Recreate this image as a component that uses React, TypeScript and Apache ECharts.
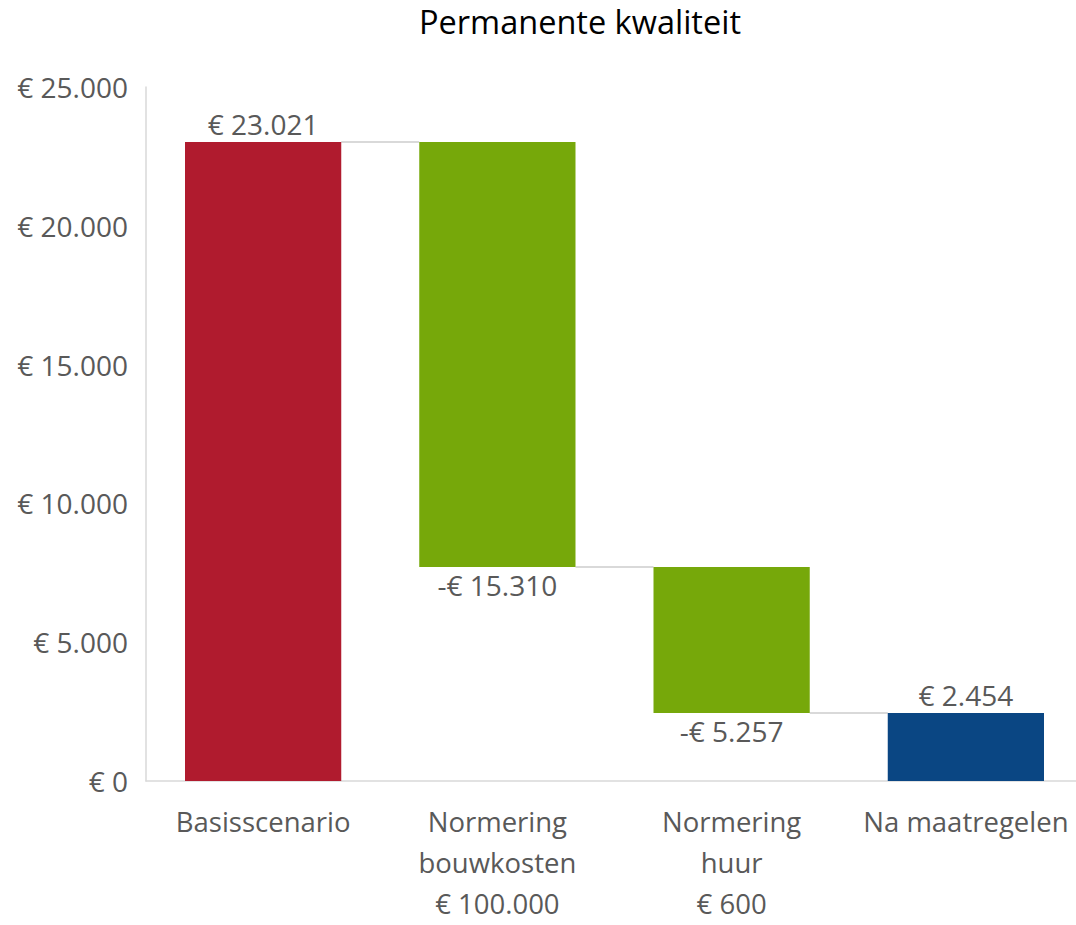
import React, { useEffect, useRef } from "react";
import * as echarts from "echarts";

const categories = [
  "Basisscenario",
  "Normering\nbouwkosten\n€ 100.000",
  "Normering\nhuur\n€ 600",
  "Na maatregelen",
];
// signed values of each step (first = start total, last = end total)
const stepValues = [23021, -15310, -5257, 2454];
const barColors = ["#B01B2E", "#76A80A", "#76A80A", "#0A4683"];
const yTicks = { min: 0, max: 25000, interval: 5000 };

const fmt = (n: number) =>
  (n < 0 ? "-€ " : "€ ") + String(Math.abs(n)).replace(/\B(?=(\d{3})+(?!\d))/g, ".");

export default function App() {
  const ref = useRef<HTMLDivElement>(null);
  useEffect(() => {
    document.body.style.margin = "0";
    document.body.style.overflow = "hidden";
    document.documentElement.style.overflow = "hidden";
    const chart = echarts.init(ref.current!, undefined, { renderer: "svg" });

    const n = stepValues.length;
    const base: number[] = [];
    const heights: number[] = [];
    const levels: number[] = [];
    let running = 0;
    stepValues.forEach((v, i) => {
      if (i === 0 || i === n - 1) {
        base.push(0);
        heights.push(Math.abs(v));
        running = v;
      } else {
        const next = running + v;
        base.push(Math.min(running, next));
        heights.push(Math.abs(v));
        running = next;
      }
      levels.push(running);
    });
    const connectors = levels.slice(0, n - 1).map((lv, i) => [i, lv]);

    const font = "Open Sans";
    const barW = 0.667;

    chart.setOption({
      animation: false,
      title: {
        text: "Permanente kwaliteit",
        left: 414,
        top: 0,
        textStyle: { fontFamily: font, fontSize: 32.5, fontWeight: "normal", color: "#000" },
      },
      grid: {
        left: 146,
        top: 87,
        width: 937,
        height: 694,
        containLabel: false,
        outerBoundsMode: "none",
      },
      xAxis: {
        type: "category",
        data: categories,
        axisTick: { show: false },
        axisLine: { lineStyle: { color: "#d9d9d9", width: 1.5 } },
        axisLabel: {
          fontFamily: font,
          fontSize: 27.5,
          color: "#595959",
          lineHeight: 41,
          margin: 20,
          interval: 0,
        },
      },
      yAxis: {
        type: "value",
        ...yTicks,
        splitLine: { show: false },
        axisLine: { show: true, lineStyle: { color: "#d9d9d9", width: 1.5 } },
        axisTick: { show: false },
        axisLabel: {
          fontFamily: font,
          fontSize: 28,
          color: "#595959",
          margin: 18,
          formatter: (v: number) => fmt(v),
        },
      },
      series: [
        {
          type: "bar",
          stack: "wf",
          data: base,
          itemStyle: { color: "transparent" },
          barWidth: (barW * 100).toFixed(1) + "%",
          silent: true,
        },
        {
          type: "bar",
          stack: "wf",
          barWidth: (barW * 100).toFixed(1) + "%",
          data: heights.map((h, i) => ({
            value: h,
            itemStyle: { color: barColors[i] },
            label: {
              show: true,
              position: stepValues[i] < 0 ? "bottom" : "top",
              formatter: () => fmt(stepValues[i]),
              fontFamily: font,
              fontSize: 28,
              color: "#595959",
              distance: 4,
            },
          })),
        },
        {
          type: "custom",
          data: connectors,
          z: 1,
          renderItem: (params: any, api: any) => {
            const i = api.value(0);
            const v = api.value(1);
            const p1 = api.coord([i, v]);
            const p2 = api.coord([i + 1, v]);
            const bw = api.size([1, 0])[0] * barW;
            return {
              type: "line",
              shape: { x1: p1[0] + bw / 2, y1: p1[1], x2: p2[0] - bw / 2, y2: p1[1] },
              style: { stroke: "#d9d9d9", lineWidth: 2 },
            };
          },
        },
      ],
    });
    return () => chart.dispose();
  }, []);
  return <div ref={ref} style={{ width: 1076, height: 925, overflow: "hidden" }} />;
}
